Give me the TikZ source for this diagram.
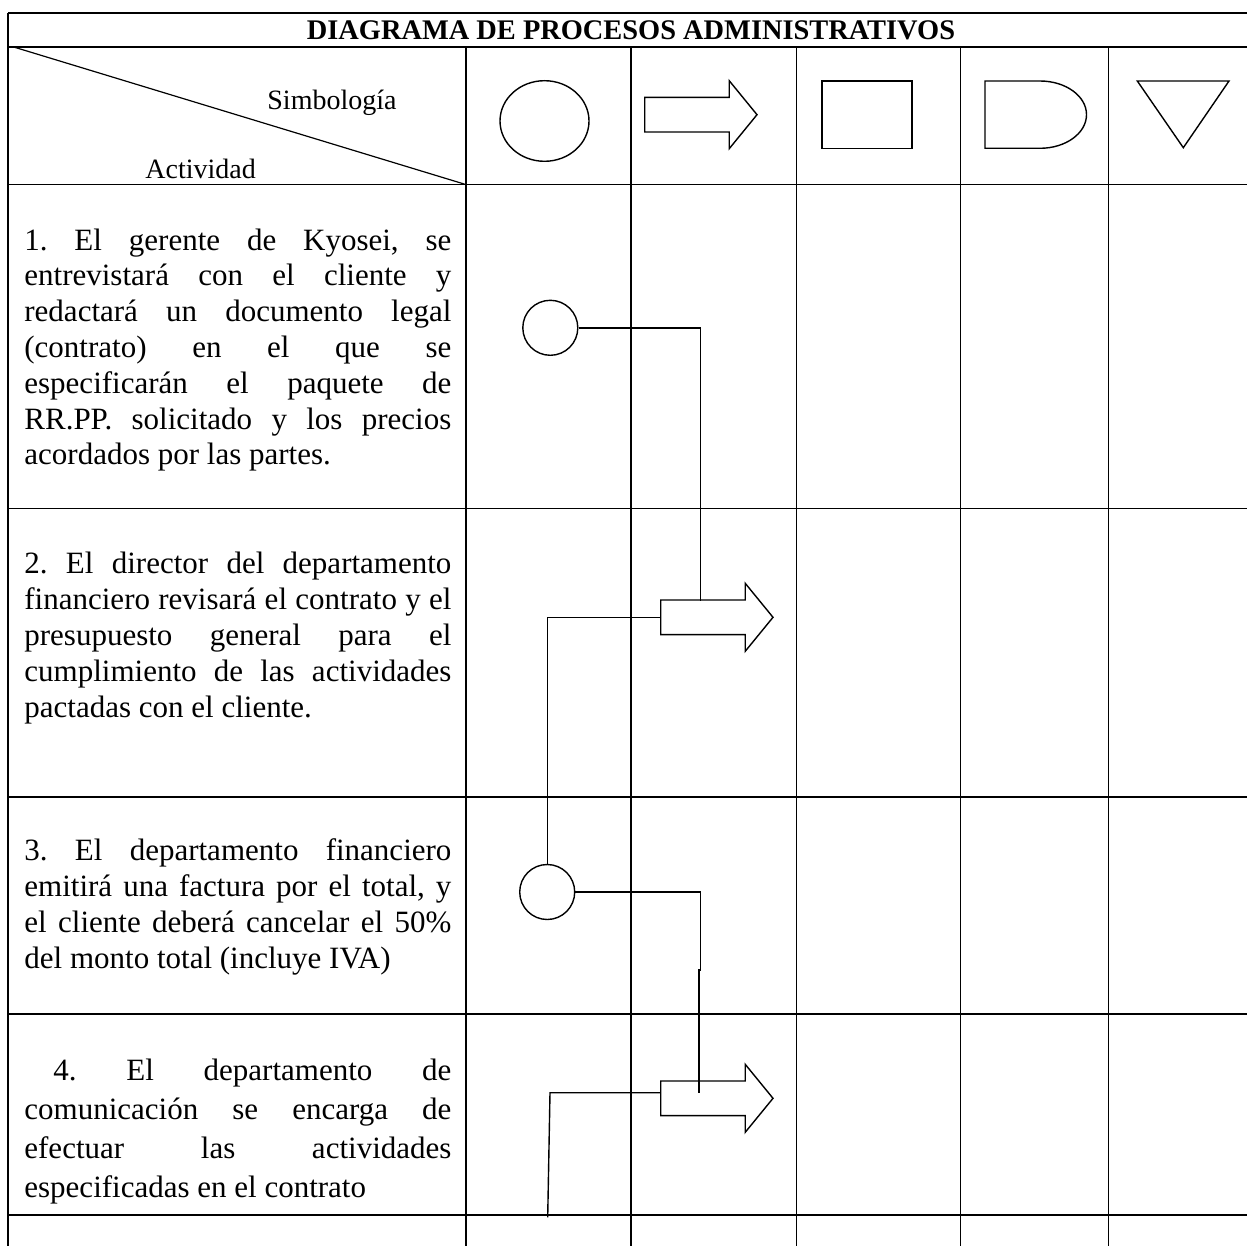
\documentclass[tikz,border=0pt]{standalone}
\usepackage{fontspec}
\setmainfont{Liberation Serif}
\usetikzlibrary{shapes.arrows, calc}
\tikzstyle{tabline} = [line width=0.9pt]
\tikzstyle{thinline} = [line width=0.6pt]
\tikzstyle{conn} = [line width=0.7pt]
\tikzstyle{sym} = [line width=0.7pt]
\tikzstyle{titulo} = [anchor=base, inner sep=0pt, font=\fontsize{14.2pt}{16pt}\selectfont\bfseries]
\tikzstyle{cabecera} = [anchor=base west, inner sep=0pt, font=\fontsize{14pt}{16pt}\selectfont]
\tikzstyle{actividad} = [anchor=base west, inner sep=0pt, text width=213.5pt, align=justify, font=\fontsize{15.5pt}{17.9pt}\selectfont\frenchspacing]
\tikzstyle{paso} = [draw, circle, line width=0.7pt, inner sep=0pt, minimum size=27.5pt]
\tikzstyle{traslado} = [draw, single arrow, line width=0.7pt, inner xsep=0pt, inner ysep=8.3pt, minimum height=56.15pt, minimum width=33.4pt, single arrow head extend=8.35pt, single arrow tip angle=101.5, single arrow head indent=0pt, anchor=tail]
\newcommand{\renglon}[1]{\makebox[\linewidth][s]{#1}\\}

\begin{document}
\begin{tikzpicture}[x=0.5pt, y=-0.5pt]
\useasboundingbox (0,0) rectangle (1247,1246);

% rejilla de la tabla
\draw[tabline] (8.3,13.3) -- (1247,13.3);
\foreach \y in {46.7,184.5,508.5,797,1014,1215}
{
\draw[tabline] (8.3,\y) -- (1247,\y);
}
\draw[tabline] (8.3,13.3) -- (8.3,1246);
\foreach \x in {465.7,631,960.5,1108.5}
{
\draw[tabline] (\x,46.7) -- (\x,1246);
}
\draw[thinline] (796.5,46.7) -- (796.5,1246);
\draw[thinline] (12.7,46.7) -- (465.7,184.5);

\node[titulo] (tit) at (631,39.3) {DIAGRAMA DE PROCESOS ADMINISTRATIVOS};
\node[cabecera] (simb) at (267,110) {Simbología};
\node[cabecera] (act) at (145,178.3) {Actividad};

% simbolos de la cabecera
\draw[sym] (544.5,121) ellipse [x radius=44.5, y radius=40.3];
\node[traslado] (s2) at (644,114.7) {};
\draw[sym] (822,81) rectangle (912,148.3);
\draw[sym] (985,81) -- (1040,81) arc[start angle=-90, end angle=90, x radius=46.5, y radius=33.65] -- (985,148.3) -- cycle;
\draw[sym] (1137.3,81) -- (1229,81) -- (1183.3,147.7) -- cycle;

% actividades
\node[actividad] (t1) at (24,250) {\renglon{1. El gerente de Kyosei, se}\renglon{entrevistará con el cliente y}\renglon{redactará un documento legal}\renglon{(contrato) en el que se}\renglon{especificarán el paquete de}\renglon{RR.PP. solicitado y los precios}acordados por las partes.};
\node[actividad, font=\fontsize{15.5pt}{18pt}\selectfont\frenchspacing] (t2) at (24,573) {\renglon{2. El director del departamento}\renglon{financiero revisará el contrato y el}\renglon{presupuesto general para el}\renglon{cumplimiento de las actividades}pactadas con el cliente.};
\node[actividad, font=\fontsize{15.5pt}{18pt}\selectfont\frenchspacing] (t3) at (24,860) {\renglon{3. El departamento financiero}\renglon{emitirá una factura por el total, y}\renglon{el cliente deberá cancelar el 50\%}del monto total (incluye IVA)};
\node[actividad, font=\fontsize{15.5pt}{19.5pt}\selectfont\frenchspacing] (t4) at (24,1080) {\renglon{\hspace*{14.5pt}4. El departamento de}\renglon{comunicación se encarga de}\renglon{efectuar las actividades}especificadas en el contrato};

% flujo
\node[paso] (c1) at (550.3,327.8) {};
\node[traslado] (a2) at (660,617.3) {};
\node[paso] (c3) at (547.2,892) {};
\node[traslado] (a4) at (660,1098.3) {};
\coordinate (k3) at ($(a4.tail)+(40.7,-128.3)$);
\coordinate (k4) at ($(a4.tail)+(39,-5)$);
\coordinate (fin) at (547.7,1217.3);

\draw[conn] (c1.east) -| ($(a2.tail)+(40.7,-16.6)$);
\draw[conn] (a2.tail) -| (c3.north);
\draw[conn] (c3.east) -| (k3) -- (k3 -| k4) -- (k4);
\draw[conn] ($(a4.tail)+(0,-5.6)$) -- ++(-110,0) -- (fin);

\end{tikzpicture}
\end{document}
